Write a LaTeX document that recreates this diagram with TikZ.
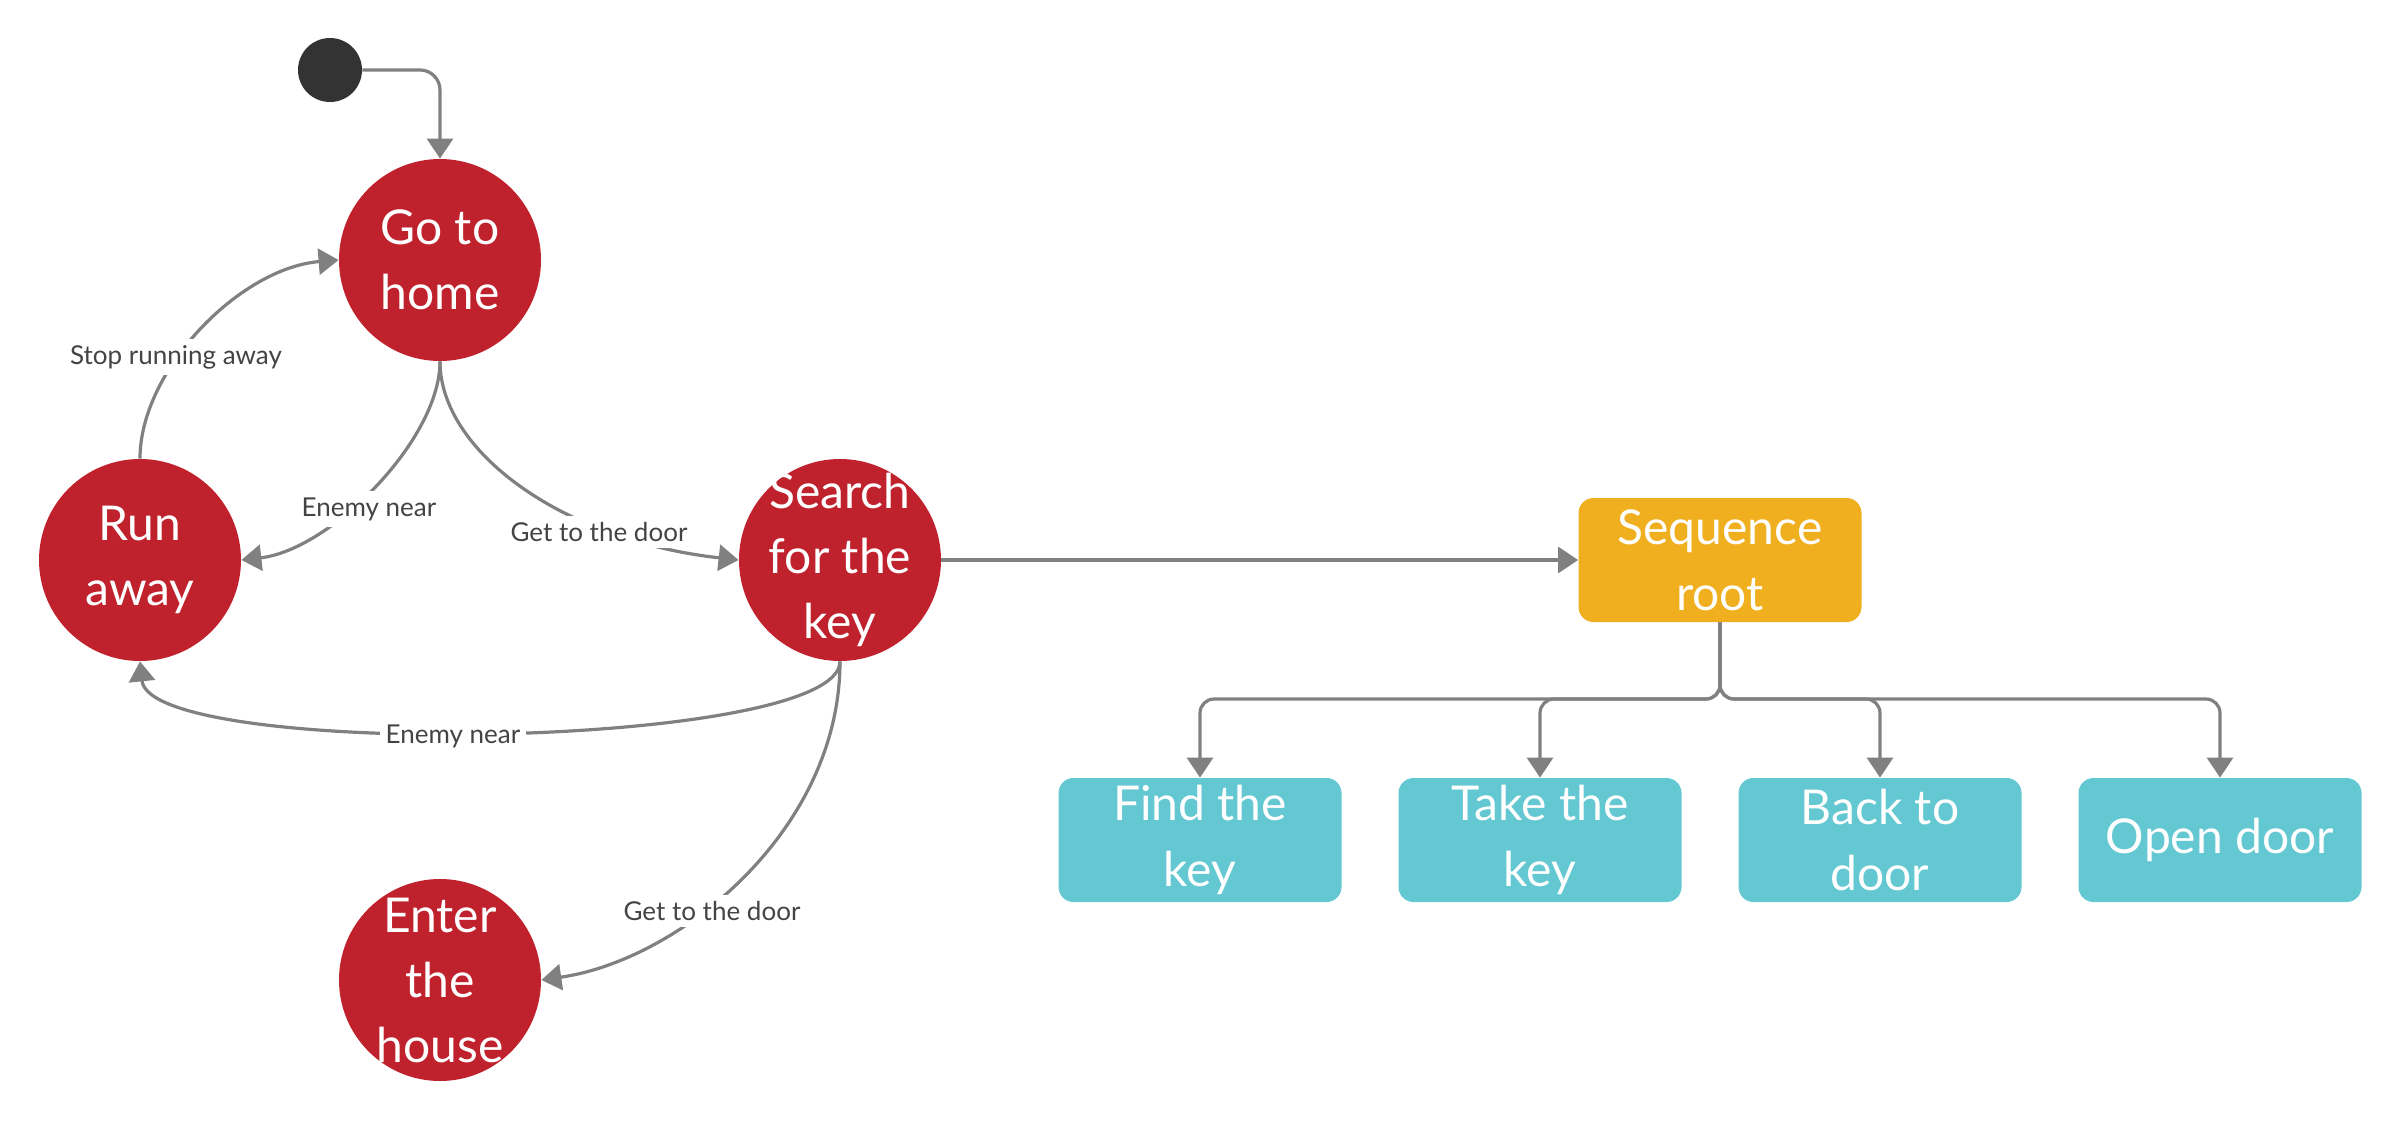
\documentclass[tikz,border=0pt]{standalone}
\usepackage{fontspec}
\setmainfont{Lato}
\usetikzlibrary{arrows.meta}
\definecolor{stred}{HTML}{C0222D}
\definecolor{seqyel}{HTML}{F0AF1E}
\definecolor{leafcyan}{HTML}{64C8D2}
\definecolor{lineg}{HTML}{808080}
\definecolor{lblg}{HTML}{444444}
\definecolor{dotc}{HTML}{333333}
\begin{document}
\begin{tikzpicture}[x=0.5pt,y=-0.5pt,
 state/.style={circle, fill=stred, minimum size=101pt, inner sep=-12pt, text=white, align=center, font=\fontsize{24}{32.5}\selectfont},
 leaf/.style={rectangle, rounded corners=7.5pt, fill=leafcyan, minimum width=141.5pt, minimum height=62pt, inner sep=0pt, text=white, align=center, font=\fontsize{24}{33}\selectfont},
 seqbox/.style={leaf, fill=seqyel},
 conn/.style={draw=lineg, line width=1.6pt, -{Triangle[length=10pt,width=13pt]}},
 lbl/.style={fill=white, text=lblg, font=\fontsize{13}{15}\selectfont, inner sep=3pt},
]
\useasboundingbox (0,0) rectangle (2400,1120);
\node[circle, fill=dotc, minimum size=32pt, inner sep=0pt] (start) at (330,70) {};
\node[state] (home) at (440,260) {Go to\\home};
\node[state] (run) at (140,560) {Run\\away};
\node[state] (search) at (840,560) {Search\\for the\\key};
\node[state] (enter) at (440,980) {Enter\\the\\house};
\node[seqbox] (root) at (1720,560) {Sequence\\root};
\node[leaf] (find) at (1200,840) {Find the\\key};
\node[leaf] (take) at (1540,840) {Take the\\key};
\node[leaf] (back) at (1880,840) {Back to\\door};
\node[leaf] (open) at (2220,840) {Open door};
\coordinate (bus) at (1720,699);
\coordinate (bend) at (440,70);

\draw[conn, rounded corners=10pt] (start.east) -- (bend) -- (home.north);
\draw[conn] (run.north) .. controls (140,370) and (240,268) .. (home.west);
\draw[conn] (home.south) .. controls (440,440) and (330,550) .. (run.east);
\draw[conn] (home.south) .. controls (440,450) and (560,540) .. (search.west);
\draw[conn] (search.south) .. controls (840,750) and (150,760) .. (run.south);
\draw[conn] (search.south) .. controls (840,830) and (680,960) .. (enter.east);
\draw[conn] (search.east) -- (root.west);
\foreach \c in {find,take,back,open} \draw[conn, rounded corners=7pt] (root.south) -- (bus) -| (\c.north);

\node[lbl] (l1) at (176,357) {Stop running away};
\node[lbl] (l2) at (369,509) {Enemy near};
\node[lbl] (l3) at (599,532) {Get to the door};
\node[lbl] (l4) at (453,736) {Enemy near};
\node[lbl] (l5) at (712,911) {Get to the door};
\end{tikzpicture}
\end{document}
